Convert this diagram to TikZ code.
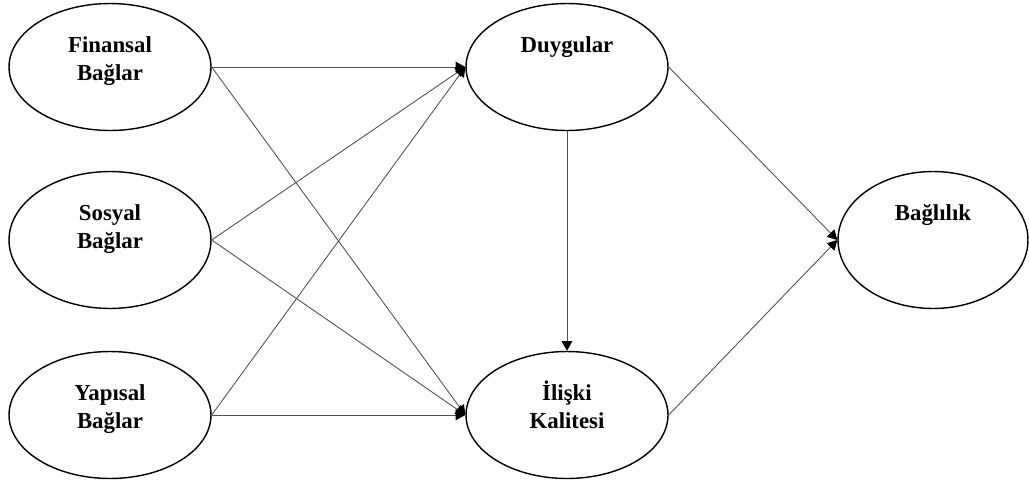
\documentclass[tikz,border=0pt]{standalone}
\usepackage{fontspec}
\setmainfont{Liberation Serif}
\usetikzlibrary{arrows.meta, shapes.geometric}
\definecolor{linkcol}{HTML}{505050}

\begin{document}
\begin{tikzpicture}[
  x=0.02cm, y=-0.02cm,
  construct/.style={draw, ellipse, line width=0.8pt, minimum width=4.04cm, minimum height=2.54cm, inner sep=0pt},
  tall/.style={minimum height=2.74cm},
  caption/.style={anchor=base, align=center, inner sep=0pt, font=\fontsize{13}{16}\selectfont\bfseries},
  link/.style={-{Triangle[length=5.5pt, width=6pt, black]}, linkcol, line width=0.5pt}
]
\useasboundingbox (0,0) rectangle (1029,481);

% Constructs
\node[construct] (fin) at (110,67) {};
\node[construct, tall] (sos) at (110,240) {};
\node[construct] (yap) at (110,415) {};
\node[construct] (duy) at (567,67) {};
\node[construct] (ili) at (567,415) {};
\node[construct, tall, minimum width=3.8cm] (bag) at (933,240) {};

% Names (base = last line, first line 50px below the top)
\node[caption] (fin-txt) at ([yshift=-1.56cm]fin.north) {Finansal\\Bağlar};
\node[caption] (sos-txt) at ([yshift=-1.56cm]sos.north) {Sosyal\\Bağlar};
\node[caption] (yap-txt) at ([yshift=-1.56cm]yap.north) {Yapısal\\Bağlar};
\node[caption] (duy-txt) at ([yshift=-1cm]duy.north) {Duygular};
\node[caption] (ili-txt) at ([yshift=-1.56cm]ili.north) {İlişki\\Kalitesi};
\node[caption] (bag-txt) at ([yshift=-1cm]bag.north) {Bağlılık};

% Paths
\foreach \src in {fin, sos, yap} {
  \draw[link] (\src.east) -- (duy.west);
  \draw[link] (\src.east) -- (ili.west);
}
\draw[link] (duy.south) -- (ili.north);
\draw[link] (duy.east) -- (bag.west);
\draw[link] (ili.east) -- (bag.west);
\end{tikzpicture}
\end{document}
